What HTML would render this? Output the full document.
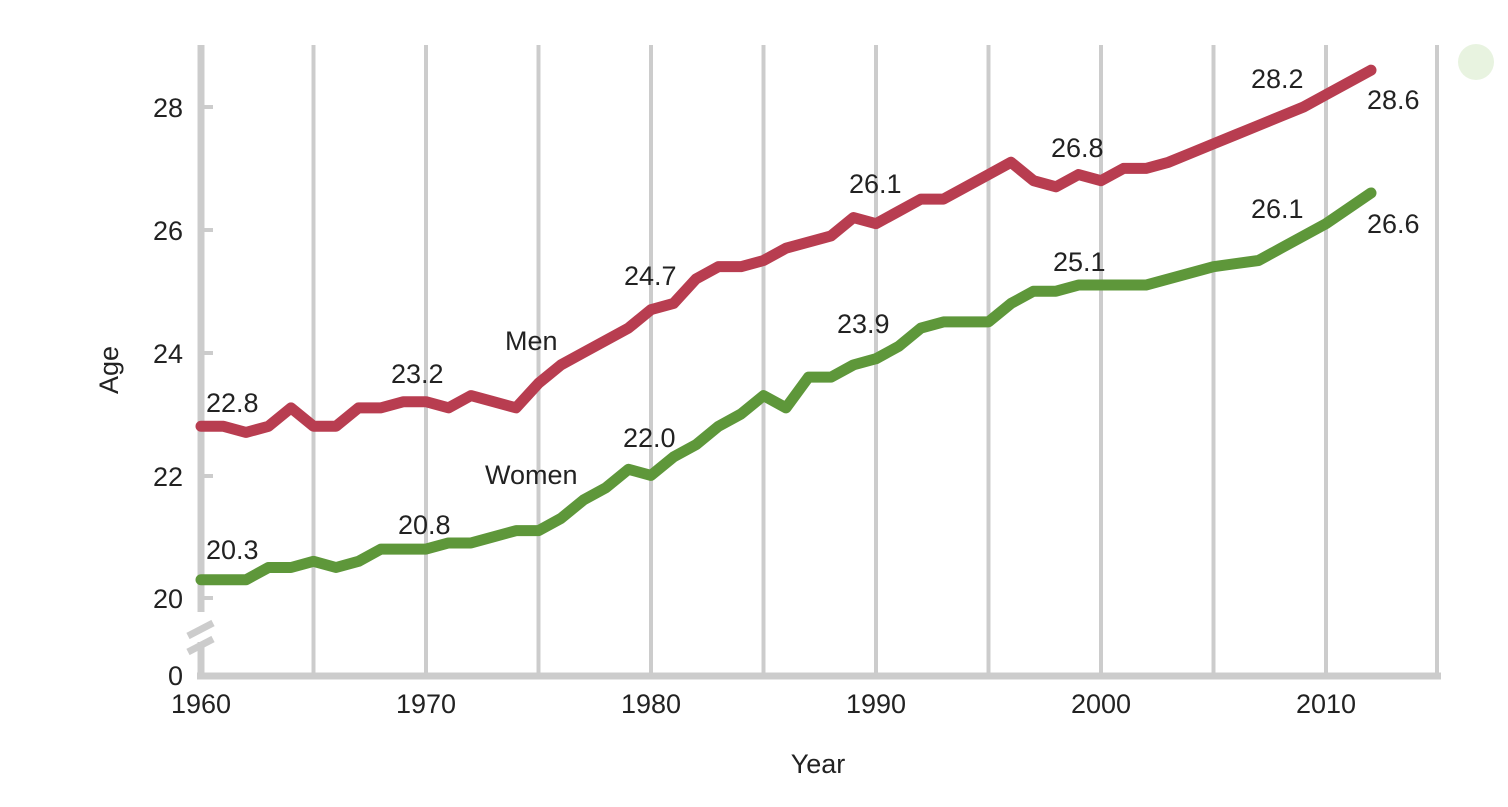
<!DOCTYPE html>
<html><head><meta charset="utf-8"><style>
html,body{margin:0;padding:0;background:#fff;}
svg text{font-family:"Liberation Sans",sans-serif;fill:#222;}
</style></head><body>
<svg id="s" width="1508" height="802" viewBox="0 0 1508 802" xmlns="http://www.w3.org/2000/svg">
<g id="grid" stroke="#cccccc" stroke-width="4"></g>
<line x1="201" y1="45" x2="201" y2="678" stroke="#cccccc" stroke-width="7"/>
<line x1="197" y1="676" x2="1441" y2="676" stroke="#cccccc" stroke-width="7"/>
<line x1="1437" y1="45" x2="1437" y2="678" stroke="#cccccc" stroke-width="4"/>
<g stroke="#cccccc" stroke-width="4">
<line x1="203" y1="107" x2="213" y2="107"/><line x1="203" y1="230" x2="213" y2="230"/>
<line x1="203" y1="353" x2="213" y2="353"/><line x1="203" y1="476" x2="213" y2="476"/>
<line x1="203" y1="598" x2="213" y2="598"/>
</g>
<rect x="185" y="612" width="30" height="30" fill="#fff"/>
<g stroke="#cccccc" stroke-width="7">
<line x1="188" y1="636" x2="213" y2="623"/><line x1="188" y1="652" x2="213" y2="639"/>
</g>
<circle cx="1476" cy="62" r="18" fill="#e8f3e0"/>
<g font-size="27" text-anchor="end">
<text x="183" y="117">28</text><text x="183" y="240">26</text><text x="183" y="363">24</text>
<text x="183" y="486">22</text><text x="183" y="608">20</text><text x="183" y="685">0</text>
</g>
<g font-size="27" text-anchor="middle">
<text x="201" y="713">1960</text><text x="426" y="713">1970</text><text x="651" y="713">1980</text>
<text x="876" y="713">1990</text><text x="1101" y="713">2000</text><text x="1326" y="713">2010</text>
<text x="818" y="773">Year</text>
</g>
<text font-size="27" text-anchor="middle" transform="translate(118,370) rotate(-90)">Age</text>
<polyline id="men" fill="none" stroke="#b83d50" stroke-width="11" stroke-linejoin="round" stroke-linecap="round"/>
<polyline id="women" fill="none" stroke="#5e973a" stroke-width="11" stroke-linejoin="round" stroke-linecap="round"/>
<g font-size="27">
<text x="206" y="412">22.8</text><text x="391" y="383">23.2</text><text x="624" y="285">24.7</text>
<text x="849" y="193">26.1</text><text x="1051" y="157">26.8</text><text x="1251" y="88">28.2</text>
<text x="1367" y="109">28.6</text>
<text x="206" y="559">20.3</text><text x="398" y="534">20.8</text><text x="623" y="447">22.0</text>
<text x="837" y="333">23.9</text><text x="1053" y="271">25.1</text><text x="1251" y="218">26.1</text>
<text x="1367" y="233">26.6</text>
<text x="505" y="350">Men</text><text x="485" y="484">Women</text>
</g>
</svg>
<script>
var X=function(y){return 201+(y-1960)*22.5},Y=function(v){return 107+(28-v)*61.4};
var g=document.getElementById('grid'),ns="http://www.w3.org/2000/svg";
for(var yr=1965;yr<2015;yr+=5){var l=document.createElementNS(ns,'line');l.setAttribute('x1',X(yr));l.setAttribute('x2',X(yr));l.setAttribute('y1',45);l.setAttribute('y2',676);g.appendChild(l);}
var m=[22.8,22.8,22.7,22.8,23.1,22.8,22.8,23.1,23.1,23.2,23.2,23.1,23.3,23.2,23.1,23.5,23.8,24.0,24.2,24.4,24.7,24.8,25.2,25.4,25.4,25.5,25.7,25.8,25.9,26.2,26.1,26.3,26.5,26.5,26.7,26.9,27.1,26.8,26.7,26.9,26.8,27.0,27.0,27.1,27.25,27.4,27.55,27.7,27.85,28.0,28.2,28.4,28.6];
var w=[20.3,20.3,20.3,20.5,20.5,20.6,20.5,20.6,20.8,20.8,20.8,20.9,20.9,21.0,21.1,21.1,21.3,21.6,21.8,22.1,22.0,22.3,22.5,22.8,23.0,23.3,23.1,23.6,23.6,23.8,23.9,24.1,24.4,24.5,24.5,24.5,24.8,25.0,25.0,25.1,25.1,25.1,25.1,25.2,25.3,25.4,25.45,25.5,25.7,25.9,26.1,26.35,26.6];
function pts(a){return a.map(function(v,i){return X(1960+i)+','+Y(v)}).join(' ')}
document.getElementById('men').setAttribute('points',pts(m));
document.getElementById('women').setAttribute('points',pts(w));
</script>
</body></html>
